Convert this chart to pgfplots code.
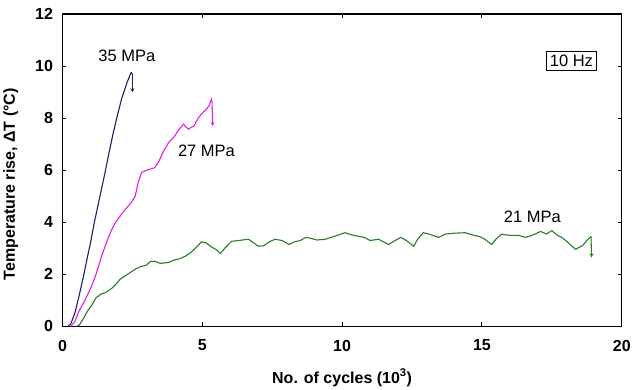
\documentclass[border=0pt]{standalone}
\usepackage{pgfplots}
\pgfplotsset{compat=1.18}
\usepackage{fontspec}
\setmainfont{Liberation Sans}
\usetikzlibrary{arrows.meta}
\definecolor{navyc}{RGB}{30,30,110}
\definecolor{magc}{RGB}{225,30,225}
\definecolor{greenc}{RGB}{40,125,40}
\begin{document}
\begin{tikzpicture}
\begin{axis}[
  scale only axis,
  width=559pt, height=312pt,
  xmin=0, xmax=20, ymin=0, ymax=12,
  xtick={0,5,10,15,20}, ytick={0,2,4,6,8,10,12},
  xticklabels={0,5,10,15,20},
  yticklabels={0,2,4,6,8,10,12},
  tick align=inside,
  major tick length=4pt,
  axis line style={line width=1.4pt},
  tick style={line width=1pt, black},
  ticklabel style={font=\fontsize{16}{18}\selectfont\bfseries},
  yticklabel style={xshift=-6pt},
  xticklabel style={yshift=-10pt},
  xlabel={No. of cycles (10\textsuperscript{3})},
  ylabel={Temperature rise, ΔT (°C)},
  label style={font=\fontsize{16}{18}\selectfont\bfseries},
  xlabel style={yshift=-11pt},
  ylabel style={at={(ticklabel cs:0.455)}, yshift=10pt},
  clip=false,
]
\addplot[navyc, line width=1.1pt] coordinates {
(0.2,0) (0.3,0.1) (0.45,0.54) (0.6,1.2) (0.75,1.92) (0.9,2.7) (1.0,3.2) (1.14,4.0) (1.3,4.8) (1.5,5.8) (1.65,6.6) (1.82,7.46) (1.95,8.05) (2.11,8.73) (2.3,9.35) (2.45,9.75) (2.5,9.7)
};
\addplot[navyc, line width=1.1pt, -{Stealth[length=4pt,width=4pt]}] coordinates {(2.5,9.7) (2.5,9.0)};
\addplot[magc, line width=1.1pt] coordinates {
(0.3,0) (0.45,0.2) (0.57,0.54) (0.8,1.0) (1.04,1.54) (1.2,2.0) (1.4,2.7) (1.6,3.3) (1.75,3.7) (1.9,4.0) (2.1,4.3) (2.25,4.5) (2.45,4.75) (2.6,5.0) (2.7,5.5) (2.83,5.92) (3.0,6.0) (3.15,6.05) (3.3,6.1) (3.45,6.35) (3.6,6.7) (3.8,7.07) (4.0,7.3) (4.15,7.55) (4.33,7.77) (4.5,7.58) (4.6,7.65) (4.7,7.7) (4.85,8.0) (5.0,8.2) (5.15,8.35) (5.25,8.5) (5.33,8.73) (5.35,8.6)
};
\addplot[magc, line width=1.1pt, -{Stealth[length=4pt,width=4pt]}] coordinates {(5.35,8.6) (5.37,7.7)};
\addplot[greenc, line width=1.1pt] coordinates {
(0.5,0) (0.6,0.05) (0.75,0.3) (0.9,0.6) (1.04,0.8) (1.2,1.1) (1.4,1.25) (1.54,1.3) (1.75,1.45) (1.9,1.6) (2.05,1.8) (2.25,1.95) (2.4,2.05) (2.6,2.2) (2.8,2.3) (3.0,2.35) (3.15,2.5) (3.3,2.5) (3.5,2.42) (3.8,2.46) (4.0,2.55) (4.2,2.6) (4.4,2.7) (4.6,2.85) (4.8,3.05) (4.97,3.25) (5.15,3.2) (5.33,3.05) (5.5,2.95) (5.65,2.8) (5.8,3.0) (6.05,3.27) (6.3,3.3) (6.65,3.35) (6.85,3.2) (7.0,3.08) (7.2,3.1) (7.4,3.25) (7.6,3.35) (7.85,3.3) (8.1,3.15) (8.3,3.25) (8.5,3.3) (8.7,3.42) (8.9,3.38) (9.1,3.32) (9.4,3.35) (9.7,3.45) (10.1,3.6) (10.4,3.5) (10.8,3.42) (11.0,3.3) (11.3,3.35) (11.66,3.15) (11.9,3.3) (12.1,3.42) (12.3,3.3) (12.56,3.08) (12.7,3.35) (12.9,3.6) (13.1,3.55) (13.45,3.42) (13.7,3.55) (14.0,3.58) (14.4,3.6) (14.7,3.5) (14.9,3.46) (15.1,3.35) (15.35,3.15) (15.5,3.35) (15.7,3.54) (16.0,3.5) (16.3,3.5) (16.56,3.42) (16.8,3.5) (17.1,3.65) (17.3,3.55) (17.5,3.68) (17.7,3.5) (17.85,3.42) (18.0,3.3) (18.2,3.1) (18.35,2.96) (18.5,3.05) (18.6,3.1) (18.75,3.3) (18.9,3.46)
};
\addplot[greenc, line width=1.1pt, -{Stealth[length=4pt,width=4pt]}] coordinates {(18.9,3.46) (18.92,2.65)};
\node[font=\fontsize{16.5}{18}\selectfont] at (axis cs:2.3,10.4) {35 MPa};
\node[font=\fontsize{16.5}{18}\selectfont] at (axis cs:5.15,6.75) {27 MPa};
\node[font=\fontsize{16.5}{18}\selectfont] at (axis cs:16.8,4.23) {21 MPa};
\node[draw, line width=0.8pt, inner sep=3.5pt, font=\fontsize{16.5}{18}\selectfont] at (axis cs:18.2,10.2) {10 Hz};
\end{axis}
\draw[opacity=0] (current axis.north west) -- ++(0,14pt);
\end{tikzpicture}
\end{document}
